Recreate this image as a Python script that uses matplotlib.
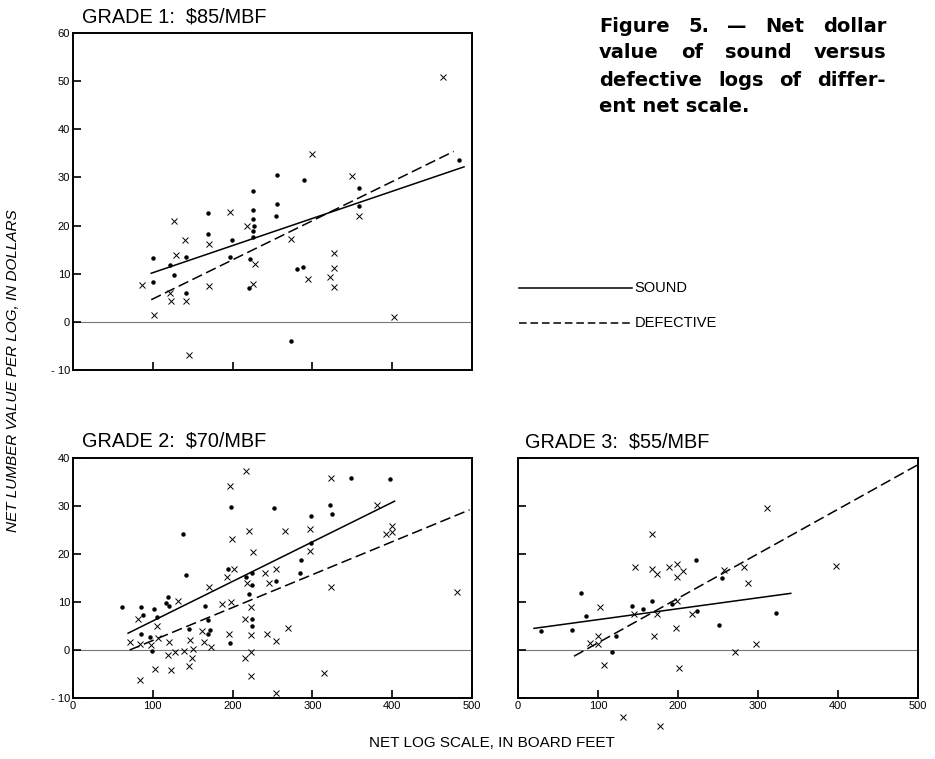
import matplotlib
matplotlib.use("Agg")
import matplotlib.pyplot as plt
from matplotlib.lines import Line2D

plt.rcParams['font.family'] = ['Liberation Sans', 'DejaVu Sans']

# grade 1 ($85/MBF)
g1_sound_x = [100, 100, 121, 127, 142, 141, 169, 169, 199, 197, 225, 225, 225, 227, 225, 225,
              222, 221, 256, 256, 254, 273, 281, 288, 290, 359, 359, 484]
g1_sound_y = [13.2, 8.2, 11.9, 9.7, 13.4, 6.1, 22.6, 18.3, 17.0, 13.4, 27.2, 23.2, 21.3, 19.9, 18.8, 17.7,
              13.0, 7.1, 30.5, 24.5, 22.0, -4.0, 11.0, 11.4, 29.4, 27.9, 24.0, 33.6]
g1_def_x = [87, 102, 122, 123, 127, 129, 140, 142, 145, 170, 171, 197, 218, 228, 226, 273, 294,
            300, 322, 327, 327, 327, 350, 359, 402, 464]
g1_def_y = [7.7, 1.5, 5.9, 4.3, 20.9, 13.8, 17.0, 4.3, -6.8, 16.2, 7.4, 22.8, 19.9, 12.1, 7.9, 17.3, 8.9,
            34.8, 9.4, 14.3, 11.1, 7.2, 30.3, 21.9, 1.1, 50.8]
g1_sound_fit = ([98, 490], [10.1, 32.2])
g1_def_fit = ([98, 477], [4.6, 35.4])

# grade 2 ($70/MBF)
g2_sound_x = [61, 85, 88, 85, 102, 105, 97, 99, 119, 116, 120, 138, 142, 145, 166, 169, 172, 169,
              194, 198, 197, 217, 224, 224, 221, 224, 224, 252, 254, 285, 286, 298, 298, 322, 324,
              348, 397]
g2_sound_y = [8.9, 8.9, 7.3, 3.3, 8.5, 6.8, 2.8, -0.3, 11.0, 9.8, 9.2, 24.2, 15.7, 4.3, 9.2, 6.3, 4.2, 3.3,
              16.8, 29.7, 1.5, 15.3, 16.0, 13.5, 11.7, 6.4, 5.0, 29.5, 14.4, 16.1, 18.7, 28.0, 22.2, 30.3, 28.3,
              35.9, 35.6]
g2_def_x = [82, 72, 84, 84, 98, 103, 105, 106, 120, 119, 123, 128, 131, 139, 146, 145, 149, 150,
            162, 164, 170, 173, 187, 193, 195, 197, 199, 198, 202, 217, 216, 216, 218, 221, 225, 223,
            223, 223, 223, 240, 243, 245, 254, 254, 254, 266, 270, 297, 297, 314, 323, 323, 381, 392,
            400, 400, 481]
g2_def_y = [6.5, 1.7, 1.3, -6.3, 1.1, -4.0, 4.9, 2.4, 1.7, -1.1, -4.2, -0.5, 10.1, -0.3, 2.0, -3.3, -1.7, 0.1,
            4.0, 1.7, 13.1, 0.7, 9.6, 15.1, 3.3, 34.2, 23.1, 10.0, 16.9, 37.2, 6.5, -1.7, 14.0, 24.7, 20.5, 9.0,
            3.1, -0.4, -5.4, 16.0, 3.3, 14.0, 16.9, 1.8, -9.0, 24.8, 4.6, 25.1, 20.7, -4.7, 35.9, 13.2, 30.3, 24.2,
            25.8, 24.5, 12.0]
g2_sound_fit = ([69, 403], [3.5, 31.0])
g2_def_fit = ([71, 497], [0.0, 29.2])

# grade 3 ($55/MBF)
g3_sound_x = [29, 67, 79, 85, 122, 118, 142, 156, 167, 192, 222, 224, 251, 255, 323]
g3_sound_y = [4.0, 4.1, 11.9, 7.0, 2.9, -0.5, 9.1, 8.6, 10.3, 9.5, 18.8, 8.1, 5.3, 14.9, 7.6]
g3_def_x = [90, 100, 100, 103, 108, 131, 146, 145, 168, 168, 170, 174, 174, 178, 189, 199, 199,
            199, 197, 206, 201, 217, 257, 271, 283, 287, 298, 311, 397]
g3_def_y = [1.5, 2.9, 1.3, 8.9, -3.2, -13.9, 17.2, 7.5, 24.2, 16.8, 3.0, 15.9, 7.5, -15.9, 17.2, 10.1, 18.0,
            15.1, 4.5, 16.4, -3.8, 7.5, 16.7, -0.5, 17.2, 13.9, 1.3, 29.6, 17.5]
g3_sound_fit = ([20, 341], [4.5, 11.8])
g3_def_fit = ([70, 500], [-1.3, 38.6])

fig = plt.figure(figsize=(9.35, 7.59), dpi=100)

ax1 = fig.add_axes([0.0781, 0.5125, 0.4267, 0.444])
ax2 = fig.add_axes([0.0781, 0.0804, 0.4267, 0.3162])
ax3 = fig.add_axes([0.554, 0.0804, 0.4278, 0.3162])


def draw_panel(ax, sx, sy, dx, dy, sfit, dfit):
    ax.axhline(0, color='#777777', lw=0.8, zorder=1)
    ax.plot(sx, sy, ls='none', marker='o', ms=2.2, color='black', clip_on=False)
    ax.plot(dx, dy, ls='none', marker='x', ms=4.5, mew=0.7, color='black', clip_on=False)
    ax.plot(sfit[0], sfit[1], color='black', lw=1.1)
    ax.plot(dfit[0], dfit[1], color='black', lw=1.1, dashes=(7, 3))
    ax.set_xlim(0, 500)
    for s in ax.spines.values():
        s.set_linewidth(1.4)
    ax.tick_params(direction='in', length=6, width=1.2, labelsize=8, pad=2)


draw_panel(ax1, g1_sound_x, g1_sound_y, g1_def_x, g1_def_y, g1_sound_fit, g1_def_fit)
draw_panel(ax2, g2_sound_x, g2_sound_y, g2_def_x, g2_def_y, g2_sound_fit, g2_def_fit)
draw_panel(ax3, g3_sound_x, g3_sound_y, g3_def_x, g3_def_y, g3_sound_fit, g3_def_fit)

ax1.set_ylim(-10, 60)
ax1.set_yticks([-10, 0, 10, 20, 30, 40, 50, 60])
ax1.set_yticklabels(['- 10', '0', '10', '20', '30', '40', '50', '60'])
ax1.set_xticks([100, 200, 300, 400])
ax1.set_xticklabels([])

for ax in (ax2, ax3):
    ax.set_ylim(-10, 40)
    ax.set_yticks([-10, 0, 10, 20, 30, 40])
    ax.set_xticks([0, 100, 200, 300, 400, 500])
    ax.set_xticklabels(['0', '100', '200', '300', '400', '500'])
ax2.set_yticklabels(['- 10', '0', '10', '20', '30', '40'])
ax3.set_yticklabels([])

fig.text(82 / 935, 1 - 17 / 759, 'GRADE 1:  $85/MBF', fontsize=14.3, va='center')
fig.text(82 / 935, 1 - 441 / 759, 'GRADE 2:  $70/MBF', fontsize=14.3, va='center')
fig.text(525 / 935, 1 - 442 / 759, 'GRADE 3:  $55/MBF', fontsize=14.3, va='center')

fig.text(492 / 935, 1 - 743 / 759, 'NET LOG SCALE, IN BOARD FEET', fontsize=11,
         ha='center', va='center')
fig.text(13 / 935, 1 - 371 / 759, 'NET LUMBER VALUE PER LOG, IN DOLLARS', fontsize=11,
         style='italic', rotation=90, ha='center', va='center')

# legend drawn by hand to the right of grade 1
fig.add_artist(Line2D([519 / 935, 632 / 935], [1 - 288 / 759] * 2, color='black', lw=1.1,
                      transform=fig.transFigure))
fig.add_artist(Line2D([519 / 935, 632 / 935], [1 - 323 / 759] * 2, color='black', lw=1.1,
                      dashes=(5, 2.5), transform=fig.transFigure))
fig.text(634 / 935, 1 - 288 / 759, 'SOUND', fontsize=10.5, va='center')
fig.text(635 / 935, 1 - 323 / 759, 'DEFECTIVE', fontsize=10.5, va='center')

# justified caption
caption = [('Figure 5. \u2014 Net dollar', 26, True),
           ('value of sound versus', 53, True),
           ('defective logs of differ-', 80, True),
           ('ent net scale.', 107, False)]
x0, x1 = 599, 886
cap_kw = dict(fontsize=14, fontweight='bold', family=['DejaVu Sans'], va='center')
renderer = fig.canvas.get_renderer()
for line, ypx, justify in caption:
    if not justify:
        fig.text(x0 / 935, 1 - ypx / 759, line, **cap_kw)
        continue
    words = line.split(' ')
    texts = [fig.text(0, 1 - ypx / 759, w, **cap_kw) for w in words]
    widths = [t.get_window_extent(renderer).width for t in texts]
    gap = (x1 - x0 - sum(widths)) / (len(words) - 1)
    x = x0
    for t, w in zip(texts, widths):
        t.set_x(x / 935)
        x += w + gap

fig.savefig('out.png', dpi=100)
